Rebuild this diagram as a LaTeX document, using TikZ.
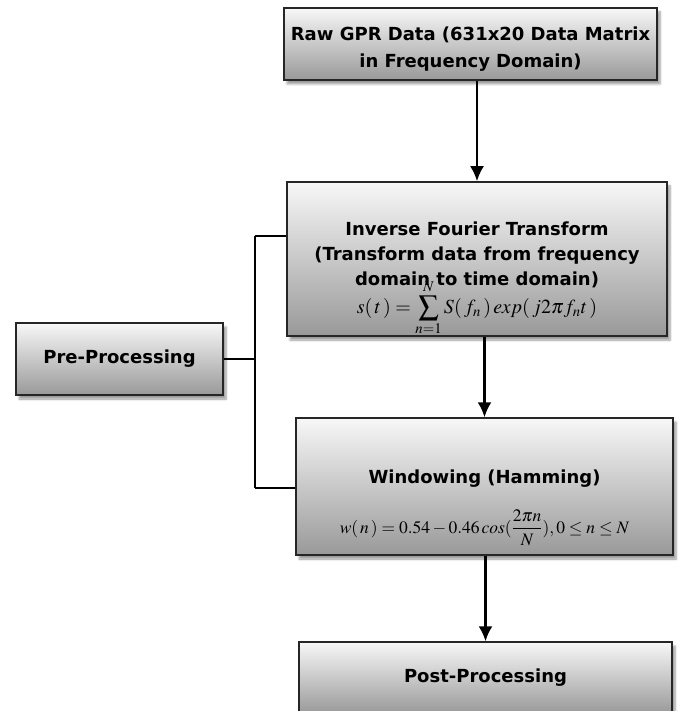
\documentclass[tikz,border=0pt]{standalone}
\usepackage{mathptmx}
\usepackage{fontspec}
\setmainfont{DejaVu Sans}
\usetikzlibrary{positioning, calc, shadows.blur, arrows.meta}
\tikzstyle{Block} = [
draw=black!85, line width=1.4pt,
top color=white!97!black, bottom color=black!40,
blur shadow={shadow xshift=3pt, shadow yshift=-4pt, shadow blur steps=6},
align=center, inner sep=0pt,
font=\bfseries\fontsize{18}{25}\selectfont]
\tikzstyle{Arrow} = [
line width=2.4pt,
-{Latex[length=15pt,width=14pt]}]
\tikzstyle{Line} = [line width=2.4pt]

\begin{document}
\begin{tikzpicture}[x=1pt, y=-1pt]
    \useasboundingbox (0,0) rectangle (680,711);
    \clip (0,0) rectangle (680,711);
    \node [Block, minimum width=373pt, minimum height=72pt,
        font=\bfseries\fontsize{18}{27}\selectfont] (1) at (470.5,44)
        {\rule{0pt}{24pt}Raw GPR Data (631x20 Data Matrix\\in Frequency Domain)};
    \node [Block, minimum width=380pt, minimum height=152pt] (2) at (477,259)
        {\rule{0pt}{54pt}Inverse Fourier Transform\\(Transform data from frequency\\domain to time domain)\\[-9pt]
        {\fontsize{20}{25}\selectfont
        $\displaystyle s(\,t\,)=\sum_{n=1}^{N} S(\,f_n\,)\,exp(\,j2\pi f_n t\,)$}};
    \node [Block, minimum width=207pt, minimum height=72pt] (3) at (119.5,359) {Pre-Processing};
    \node [Block, minimum width=377pt, minimum height=137pt] (4) at (484.5,486.5)
        {\rule{0pt}{56pt}Windowing (Hamming)\\[21pt]
        {\fontsize{17.5}{25}\selectfont
        $\displaystyle w(\,n\,)=0.54-0.46\,cos(\frac{2\pi n}{N}),0\le n\le N$}};
    \node [Block, minimum width=373pt, minimum height=72pt] (5) at (485.5,678) {Post-Processing};
    \coordinate (6) at (255,359);
    \coordinate (7) at (255,236);
    \coordinate (8) at (255,488);
    \draw[Arrow] (1.south -| 2.north) -- (2.north);
    \draw[Arrow] (2.south -| 4.north) -- (4.north);
    \draw[Arrow] (4.south -| 5.north) -- (5.north);
    \draw[Line] (3.east) -- (6);
    \draw[Line] (7) -- (8);
    \draw[Line] (7) -- (7 -| 2.west);
    \draw[Line] (8) -- (8 -| 4.west);
\end{tikzpicture}
\end{document}
